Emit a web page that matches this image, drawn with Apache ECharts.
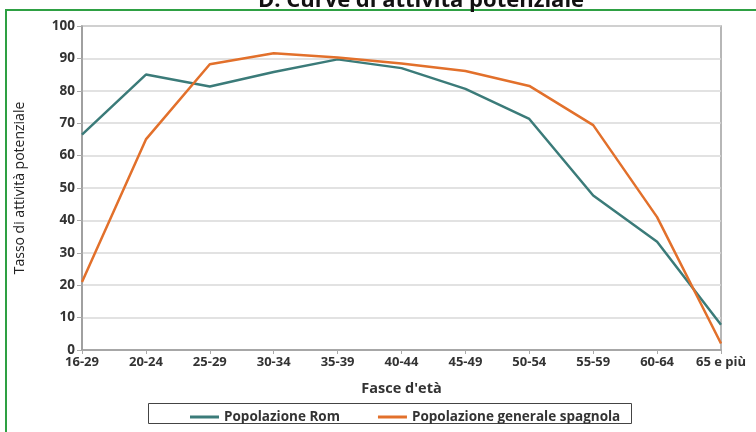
<!DOCTYPE html>
<html>
<head>
<meta charset="utf-8">
<script src="https://cdn.jsdelivr.net/npm/echarts@6/dist/echarts.min.js"></script>
<style>html,body{margin:0;padding:0;background:#fff}#c{width:756px;height:432px}</style>
</head>
<body>
<div id="c"></div>
<script>
const categories = ['16-29','20-24','25-29','30-34','35-39','40-44','45-49','50-54','55-59','60-64','65 e più'];
const romValues = [66.5, 85, 81.3, 85.8, 89.7, 87, 80.6, 71.3, 47.7, 33.4, 7.8];
const spagnolaValues = [21, 65, 88.2, 91.6, 90.3, 88.4, 86.1, 81.5, 69.4, 41, 2];
const seriesNames = ['Popolazione Rom', 'Popolazione generale spagnola'];
const titleText = 'D. Curve di attività potenziale';
const xAxisName = "Fasce d'età";
const yAxisName = 'Tasso di attività potenziale';

const chart = echarts.init(document.getElementById('c'));
const font = '"Open Sans", "DejaVu Sans", sans-serif';
chart.setOption({
  backgroundColor: '#ffffff',
  animation: false,
  textStyle: { fontFamily: font },
  graphic: [
    { type: 'rect', shape: { x: 6, y: 10, width: 800, height: 500 }, style: { fill: 'none', stroke: '#2ea043', lineWidth: 2 }, z: 0 },
    { type: 'rect', shape: { x: 148.5, y: 403.5, width: 483, height: 20 }, style: { fill: 'none', stroke: '#444', lineWidth: 1 }, z: 0 },
    { type: 'text', x: 421, y: 12, z: 10,
      style: { text: titleText, font: 'bold 22px "Open Sans", "DejaVu Sans", sans-serif', fill: '#111',
               align: 'center', verticalAlign: 'bottom', textAlign: 'center', textVerticalAlign: 'bottom' } }
  ],
  legend: {
    data: seriesNames,
    left: 185, top: 405,
    itemWidth: 29, itemHeight: 3, itemGap: 38,
    icon: 'rect',
    textStyle: { fontSize: 13.5, fontWeight: 'bold', color: '#333', fontFamily: font }
  },
  grid: { left: 82, right: 35, top: 26, bottom: 82, show: true, borderColor: '#a0a0a0', borderWidth: 1.5, backgroundColor: 'transparent' },
  xAxis: {
    type: 'category', data: categories, boundaryGap: false,
    name: xAxisName, nameLocation: 'middle', nameGap: 31,
    nameTextStyle: { fontSize: 14.5, fontWeight: 'bold', color: '#333', fontFamily: font },
    axisLine: { lineStyle: { color: '#999', width: 1.5 } },
    axisTick: { show: true, alignWithLabel: true, length: 4, lineStyle: { color: '#aaa' } },
    axisLabel: { fontSize: 13, fontWeight: 'bold', color: '#333', margin: 6, fontFamily: font, interval: 0 },
    splitLine: { show: false }
  },
  yAxis: {
    type: 'value', min: 0, max: 100, interval: 10,
    name: yAxisName, nameLocation: 'middle', nameGap: 55, nameRotate: 90,
    nameTextStyle: { fontSize: 14, color: '#222', fontFamily: font },
    axisLine: { show: true, lineStyle: { color: '#999', width: 1.5 } },
    axisTick: { show: true, length: 5, lineStyle: { color: '#aaa' } },
    axisLabel: { fontSize: 13.5, fontWeight: 'bold', color: '#333', margin: 7, fontFamily: font },
    splitLine: { show: true, lineStyle: { color: '#d9d9d9', width: 1.5 } }
  },
  series: [
    { name: seriesNames[0], type: 'line', data: romValues, showSymbol: false, symbol: 'none', lineStyle: { color: '#3b7b79', width: 2.5 }, itemStyle: { color: '#3b7b79' } },
    { name: seriesNames[1], type: 'line', data: spagnolaValues, showSymbol: false, symbol: 'none', lineStyle: { color: '#e2702b', width: 2.5 }, itemStyle: { color: '#e2702b' } }
  ]
});
</script>
</body>
</html>
